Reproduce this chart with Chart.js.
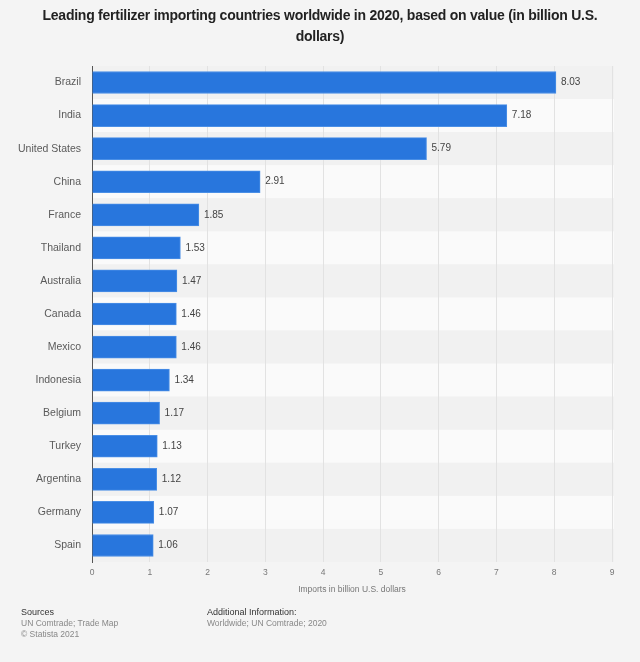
<!DOCTYPE html>
<html><head><meta charset="utf-8">
<script src="https://cdn.jsdelivr.net/npm/chart.js@4"></script>
<style>
html,body{margin:0;padding:0;background:#f4f4f4;width:640px;height:662px;overflow:hidden;font-family:"Liberation Sans",Arial,sans-serif;}
#wrap{position:relative;width:640px;height:662px;}
canvas{position:absolute;left:0;top:0;}
#title{position:absolute;left:0;width:640px;top:5px;text-align:center;font-weight:bold;font-size:14px;line-height:21px;color:#222;letter-spacing:-0.25px;}
.f{position:absolute;font-size:8.5px;line-height:11px;color:#888;}
.f b{color:#333;font-weight:normal;font-size:9px;}
</style></head>
<body><div id="wrap">
<canvas id="c" width="640" height="662"></canvas>
<div id="title">Leading fertilizer importing countries worldwide in 2020, based on value (in billion U.S.<br>dollars)</div>
<div class="f" style="left:21px;top:607px;"><b>Sources</b><br>UN Comtrade; Trade Map<br>© Statista 2021</div>
<div class="f" style="left:207px;top:607px;"><b>Additional Information:</b><br>Worldwide; UN Comtrade; 2020</div>
</div>
<script>
const countries = ["Brazil","India","United States","China","France","Thailand","Australia","Canada","Mexico","Indonesia","Belgium","Turkey","Argentina","Germany","Spain"];
const imports = [8.03,7.18,5.79,2.91,1.85,1.53,1.47,1.46,1.46,1.34,1.17,1.13,1.12,1.07,1.06];
const xTicks = [0,1,2,3,4,5,6,7,8,9];
const axisTitle = "Imports in billion U.S. dollars";

const bands = {
  id:'bands',
  beforeDraw(chart){
    const ctx = chart.ctx, a = chart.chartArea;
    ctx.save();
    ctx.fillStyle = '#f4f4f4';
    ctx.fillRect(0,0,chart.width,chart.height);
    const n = countries.length, h = (a.bottom - a.top)/n;
    for(let i=0;i<n;i++){
      ctx.fillStyle = i%2===0 ? '#f1f1f1' : '#fafafa';
      ctx.fillRect(a.left, a.top + i*h, a.right - a.left + 2, h);
    }
    ctx.restore();
  }
};
const values = {
  id:'values',
  afterDatasetsDraw(chart){
    const ctx = chart.ctx, meta = chart.getDatasetMeta(0);
    ctx.save();
    ctx.font = '10px "Liberation Sans", Arial, sans-serif';
    ctx.fillStyle = '#444';
    ctx.textBaseline = 'middle';
    ctx.textAlign = 'left';
    meta.data.forEach((el,i)=>{
      ctx.fillText(imports[i].toFixed(2), el.x + 5, el.y);
    });
    ctx.restore();
  }
};

new Chart(document.getElementById('c'), {
  type:'bar',
  data:{labels:countries, datasets:[{data:imports, backgroundColor:'#2876dd', borderColor:'#4a8fe6', borderWidth:1, barThickness:22}]},
  options:{
    indexAxis:'y', responsive:false, animation:false,
    layout:{padding:{top:66,right:28,bottom:67,left:0}},
    plugins:{legend:{display:false}, tooltip:{enabled:false}},
    scales:{
      x:{min:0,max:9,
        afterBuildTicks(s){ s.ticks = xTicks.map(v=>({value:v})); },
        afterFit(s){ s.height = 33; },
        grid:{color:'#e2e2e2', drawTicks:false, lineWidth:1},
        border:{display:false},
        ticks:{padding:6, color:'#777', font:{size:8.5, family:'"Liberation Sans", Arial, sans-serif'}},
        title:{display:true, text:axisTitle, color:'#777', padding:{top:4,bottom:0}, font:{size:8.5, family:'"Liberation Sans", Arial, sans-serif'}}
      },
      y:{
        afterFit(s){ s.width = 92; },
        grid:{display:false, drawTicks:false},
        border:{display:true, color:'#555', width:1},
        ticks:{padding:11, color:'#5a5a5a', font:{size:10.5, family:'"Liberation Sans", Arial, sans-serif'}}
      }
    }
  },
  plugins:[bands, values]
});
</script>
</body></html>
